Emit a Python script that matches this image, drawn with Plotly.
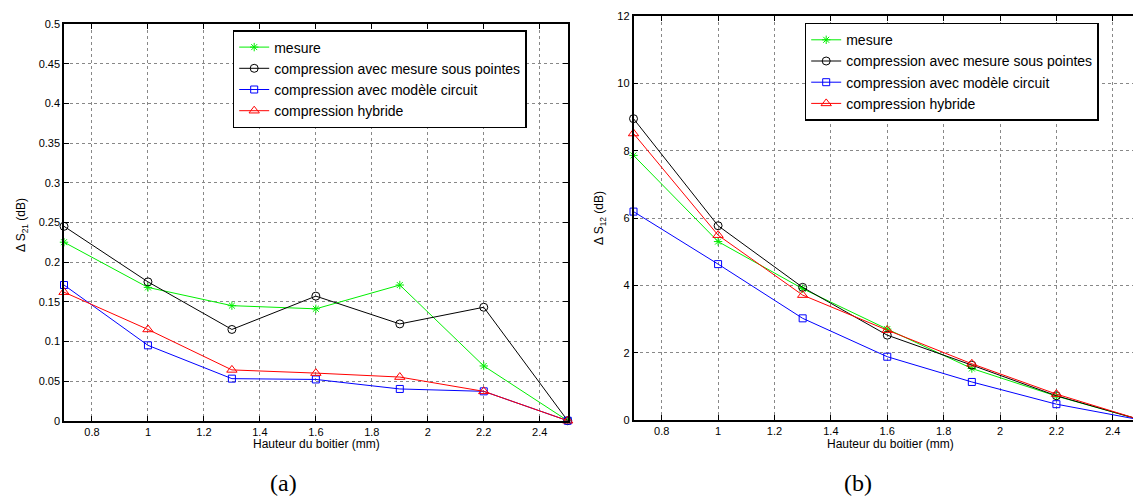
import plotly.graph_objects as go

# ---- data ----
hauteur = [0.7, 1.0, 1.3, 1.6, 1.9, 2.2, 2.5]

s21_mesure = [0.225, 0.168, 0.145, 0.141, 0.171, 0.069, 0.0]
s21_pointes = [0.245, 0.175, 0.115, 0.157, 0.122, 0.143, 0.0]
s21_circuit = [0.171, 0.095, 0.053, 0.052, 0.040, 0.037, 0.0]
s21_hybride = [0.162, 0.115, 0.064, 0.060, 0.055, 0.037, 0.0]

s12_mesure = [7.86, 5.30, 3.90, 2.70, 1.53, 0.71, 0.0]
s12_pointes = [8.95, 5.77, 3.94, 2.52, 1.63, 0.72, 0.0]
s12_circuit = [6.19, 4.63, 3.02, 1.88, 1.13, 0.47, 0.0]
s12_hybride = [8.51, 5.49, 3.71, 2.67, 1.67, 0.77, 0.0]

series_names = ["mesure", "compression avec mesure sous pointes",
                "compression avec modèle circuit", "compression hybride"]

x_tickvals = [0.8, 1.0, 1.2, 1.4, 1.6, 1.8, 2.0, 2.2, 2.4]
x_ticktext = ["0.8", "1", "1.2", "1.4", "1.6", "1.8", "2", "2.2", "2.4"]
y1_tickvals = [0, 0.05, 0.1, 0.15, 0.2, 0.25, 0.3, 0.35, 0.4, 0.45, 0.5]
y1_ticktext = ["0", "0.05", "0.1", "0.15", "0.2", "0.25", "0.3", "0.35", "0.4", "0.45", "0.5"]
y2_tickvals = [0, 2, 4, 6, 8, 10, 12]
y2_ticktext = ["0", "2", "4", "6", "8", "10", "12"]

x_title = "Hauteur du boitier (mm)"
y1_title = "Δ S<sub>21</sub> (dB)"
y2_title = "Δ S<sub>12</sub> (dB)"

styles = [
    dict(color="#00ee00", symbol="asterisk-open", size=7),
    dict(color="#000000", symbol="circle-open", size=8),
    dict(color="#0000ff", symbol="square-open", size=7),
    dict(color="#ff0000", symbol="triangle-up-open", size=9),
]

# page body has an 8px margin: figure is drawn at (8, 8) in the window
OFF = 8
W, H = 1141 - OFF, 500 - OFF


def px(x):
    return (x - OFF) / W


def py(y):
    return 1 - (y - OFF) / H


fig = go.Figure()

left_sets = [s21_mesure, s21_pointes, s21_circuit, s21_hybride]
right_sets = [s12_mesure, s12_pointes, s12_circuit, s12_hybride]

for name, ys, st in zip(series_names, left_sets, styles):
    fig.add_trace(go.Scatter(
        x=hauteur, y=ys, name=name, mode="lines+markers",
        line=dict(color=st["color"], width=1),
        marker=dict(symbol=st["symbol"], size=st["size"], color=st["color"],
                    line=dict(color=st["color"], width=1)),
        xaxis="x", yaxis="y", legend="legend", cliponaxis=False))

for name, ys, st in zip(series_names, right_sets, styles):
    fig.add_trace(go.Scatter(
        x=hauteur, y=ys, name=name, mode="lines+markers",
        line=dict(color=st["color"], width=1),
        marker=dict(symbol=st["symbol"], size=st["size"], color=st["color"],
                    line=dict(color=st["color"], width=1)),
        xaxis="x2", yaxis="y2", legend="legend2", cliponaxis=False))

font_family = "Liberation Sans, Arial, sans-serif"
axis_common = dict(
    showline=True, linecolor="black", linewidth=1.5, mirror="ticks",
    ticks="inside", ticklen=5, tickcolor="black", automargin=False,
    showgrid=True, gridcolor="#888888", griddash="dot", gridwidth=1,
    zeroline=False, tickfont=dict(family=font_family, size=11, color="black"),
)

x1_dom = [px(64), px(567.7)]
x2_dom = [px(633.5), 1.0]
y1_dom = [py(420.7), py(24)]
y2_dom = [py(420), py(16)]

legend_common = dict(xanchor="left", yanchor="top",
                     bgcolor="white", bordercolor="black", borderwidth=1.5,
                     font=dict(family=font_family, size=14, color="black"),
                     tracegroupgap=0)

fig.update_layout(
    width=W, height=H,
    margin=dict(l=0, r=0, t=0, b=0, autoexpand=False),
    paper_bgcolor="white", plot_bgcolor="white",
    font=dict(family=font_family, size=12, color="black"),
    xaxis=dict(domain=x1_dom, range=[0.7, 2.5], tickvals=x_tickvals, ticktext=x_ticktext,
               anchor="y", **axis_common),
    yaxis=dict(domain=y1_dom, range=[0, 0.5], tickvals=y1_tickvals, ticktext=y1_ticktext,
               anchor="x", **axis_common),
    xaxis2=dict(domain=x2_dom, range=[0.7, 2.5], tickvals=x_tickvals, ticktext=x_ticktext,
                anchor="y2", **axis_common),
    yaxis2=dict(domain=y2_dom, range=[0, 12], tickvals=y2_tickvals, ticktext=y2_ticktext,
                anchor="x2", **axis_common),
    legend=dict(x=px(232.7), y=py(30), **legend_common),
    legend2=dict(x=px(804.7), y=py(22.7), **legend_common),
    showlegend=True,
)

annots = [
    dict(text=x_title, x=px(316), y=py(444), font=dict(size=12)),
    dict(text=x_title, x=px(890), y=py(444), font=dict(size=12)),
    dict(text=y1_title, x=px(22), y=py(225), textangle=-90, font=dict(size=12)),
    dict(text=y2_title, x=px(600), y=py(218), textangle=-90, font=dict(size=12)),
    dict(text="(a)", x=px(283), y=py(483),
         font=dict(family="Liberation Serif, DejaVu Serif, serif", size=24)),
    dict(text="(b)", x=px(858), y=py(483),
         font=dict(family="Liberation Serif, DejaVu Serif, serif", size=24)),
]
for a in annots:
    fig.add_annotation(xref="paper", yref="paper", showarrow=False,
                       xanchor="center", yanchor="middle", **a)

fig.write_html("out.html")
